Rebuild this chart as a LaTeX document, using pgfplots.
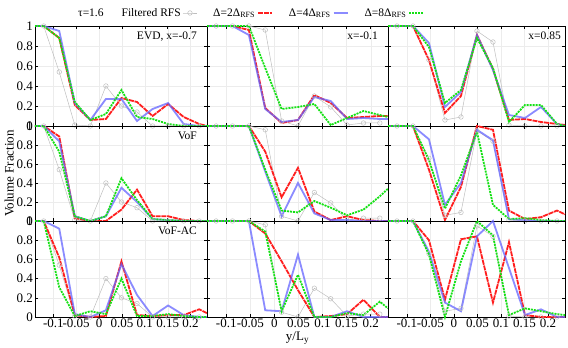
\documentclass[border=0pt]{standalone}
\usepackage{fontspec}
\setmainfont{Liberation Serif}
\usepackage{pgfplots}
\usepackage{pgfplotstable}
\pgfplotsset{compat=1.18}
\definecolor{rfsgray}{RGB}{190,190,190}
\definecolor{dred}{RGB}{255,30,30}
\definecolor{dblue}{RGB}{100,100,255}
\definecolor{dgreen}{RGB}{20,225,20}
\newcommand{\fs}{\fontsize{11.5}{13}\selectfont}
\newcommand{\ft}{\fontsize{13}{14}\selectfont}

% columns: y/Ly, filtered RFS, Delta=2,4,8 Delta_RFS (first/last row = frame edges)
\pgfplotstableread{
x rfs d2 d4 d8
-0.140 nan 1 1 1
-0.121 1 1 1 1
-0.087 0.54 0.88 0.95 0.88
-0.053 0.01 0.21 0.23 0.24
-0.019 0 0.06 0.06 0.06
0.015 0.40 0.07 0.27 0.12
0.049 0.20 0.28 0.27 0.36
0.083 0.14 0.24 0.05 0.09
0.117 0 0.10 0.17 0.07
0.151 0 0.22 0.23 0.02
0.185 0 0.09 0.02 0
0.219 0 0.02 0 0
0.236 nan 0 0 0
}\pA
\pgfplotstableread{
x rfs d2 d4 d8
-0.140 nan 1 1 1
-0.121 1 1 1 1
-0.087 1 1 1 1
-0.053 1 0.96 0.91 1
-0.019 0.96 0.18 0.17 0.58
0.015 0.05 0.03 0.04 0.17
0.049 0 0.06 0.06 0.19
0.083 0.30 0.31 0.29 0.22
0.117 0.19 0.23 0.25 0.01
0.151 0.01 0.08 0.07 0.08
0.185 0.03 0.09 0.08 0.15
0.219 0.03 0.10 0.07 0.11
0.236 nan 0.10 0.07 0.09
}\pB
\pgfplotstableread{
x rfs d2 d4 d8
-0.140 nan 1 1 1
-0.121 1 1 1 1
-0.087 1 1 1 1
-0.053 0.66 0.66 0.83 0.79
-0.019 0.06 0.13 0.19 0.23
0.015 0.09 0.30 0.34 0.36
0.049 0.95 0.91 0.91 0.88
0.083 0.84 0.57 0.56 0.58
0.117 0.01 0.06 0.11 0.04
0.151 0 0.07 0.08 0.21
0.185 0 0.04 0.19 0.21
0.219 0 0.02 0.02 0.02
0.236 nan 0.01 0 0
}\pC
\pgfplotstableread{
x rfs d2 d4 d8
-0.140 nan 1 1 1
-0.121 1 1 1 1
-0.087 0.54 0.89 0.84 0.73
-0.053 0.01 0.03 0.05 0.05
-0.019 0 0 0 0
0.015 0.40 0 0.05 0.05
0.049 0.20 0.12 0.35 0.45
0.083 0.14 0.33 0.20 0.22
0.117 0 0.05 0.02 0.02
0.151 0 0.05 0.01 0.01
0.185 0 0.01 0 0
0.219 0 0 0 0
0.236 nan 0 0 0
}\pD
\pgfplotstableread{
x rfs d2 d4 d8
-0.140 nan 1 1 1
-0.121 1 1 1 1
-0.087 1 1 1 1
-0.053 1 1 1 1
-0.019 0.96 0.73 0.52 0.54
0.015 0.05 0.25 0.05 0.11
0.049 0 0.56 0.40 0.09
0.083 0.30 0.10 0.08 0.21
0.117 0.19 0.01 0.01 0.14
0.151 0.01 0.05 0.01 0.06
0.185 0.03 0.01 0 0.12
0.219 0.03 0 0 0.26
0.236 nan 0 0 0.34
}\pE
\pgfplotstableread{
x rfs d2 d4 d8
-0.140 nan 1 1 1
-0.121 1 1 1 1
-0.087 1 1 1 1
-0.053 0.66 0.54 0.86 0.64
-0.019 0.06 0.01 0.17 0.13
0.015 0.09 0.36 0.40 0.48
0.049 0.95 1.0 0.96 0.94
0.083 0.84 0.96 0.85 0.17
0.117 0.01 0.11 0.02 0.02
0.151 0 0.02 0.01 0.03
0.185 0 0.04 0 0.01
0.219 0 0.11 0 0
0.236 nan 0.07 0 0
}\pF
\pgfplotstableread{
x rfs d2 d4 d8
-0.140 nan 1 1 1
-0.121 1 1 1 1
-0.087 0.54 0.62 0.92 0.31
-0.053 0.01 0.02 0.03 0.01
-0.019 0 0 0 0.06
0.015 0.40 0.01 0.07 0.03
0.049 0.20 0.58 0.55 0.40
0.083 0.14 0.02 0.23 0.01
0.117 0 0.01 0.01 0.01
0.151 0 0.02 0.12 0.03
0.185 0 0.02 0.02 0.01
0.219 0 0.08 0 0
0.236 nan 0.04 0 0
}\pG
\pgfplotstableread{
x rfs d2 d4 d8
-0.140 nan 1 1 1
-0.121 1 1 1 1
-0.087 1 1 1 1
-0.053 1 1 1 1
-0.019 0.96 0.87 0.07 0.89
0.015 0.05 0.58 0.06 0.06
0.049 0 0.28 0.65 0.44
0.083 0.30 0 0 0
0.117 0.19 0.01 0 0
0.151 0.01 0.03 0.06 0.04
0.185 0.03 0.18 0 0.02
0.219 0.03 0 0 0.16
0.236 nan 0 0 0.09
}\pH
\pgfplotstableread{
x rfs d2 d4 d8
-0.140 nan 1 1 1
-0.121 1 1 1 1
-0.087 1 1 1 1
-0.053 0.66 0.80 0.68 0.65
-0.019 0.06 0.18 0.15 0
0.015 0.09 0.81 0.06 0.58
0.049 0.95 0.84 0.84 1.0
0.083 0.84 0.15 1.0 0.85
0.117 0.01 0.78 0.51 0.02
0.151 0 0.02 0.02 0.09
0.185 0 0 0.08 0.06
0.219 0 0 0 0.03
0.236 nan 0 0 0.02
}\pI

\pgfplotsset{
  rfs/.style={rfsgray, line width=0.5pt, mark=o, mark size=2.3pt, mark options={solid, line width=0.5pt}},
  d2/.style={dred, line width=1.8pt, dash pattern=on 5pt off 0.8pt},
  d4/.style={dblue, line width=1.8pt, opacity=0.75},
  d8/.style={dgreen, line width=1.8pt, dash pattern=on 2pt off 1pt},
  vf/.style={
    scale only axis, anchor=south west, clip=false,
    xmin=-0.14, xmax=0.236, ymin=0, ymax=1,
    xtick={-0.1,-0.05,0,0.05,0.1,0.15,0.2},
    ytick={0,0.2,0.4,0.6,0.8,1},
    xticklabels={}, yticklabels={},
    tick align=inside, major tick length=3pt,
    tick style={black, line width=0.5pt},
    axis line style={black, line width=0.5pt},
    grid=major, major grid style={gray!15, line width=0.3pt},
    tick label style={font=\ft},
    xticklabel style={inner sep=2pt},
    yticklabel style={inner sep=2pt},
    label style={font=\ft},
  },
  ylab/.style={yticklabels={0,0.2,0.4,0.6,0.8,1}},
  xlab/.style={xticklabels={-0.1,-0.05,0,0.05,0.1,0.15,0.2}},
}
\newcommand{\panel}[1]{%
  \addplot[rfs] table[y=rfs]{#1};
  \addplot[d2] table[y=d2]{#1};
  \addplot[d4] table[y=d4]{#1};
  \addplot[d8] table[y=d8]{#1};
}
\newcommand{\tag}[2][-10pt]{\node[anchor=north east, inner sep=0pt, font=\fs, xshift=#1, yshift=-6pt] at (rel axis cs:1,1) {#2};}

\begin{document}
\begin{tikzpicture}
% row 1
\begin{axis}[vf, ylab, at={(35pt,222pt)}, width=172pt, height=100pt,
  legend columns=5, legend plot pos=right,
  legend style={draw=none, fill=none, font=\fs, inner sep=0pt,
    at={(axis description cs:0.238,1.13)}, anchor=west,
    /tikz/every even column/.append style={column sep=14pt}},
  legend image code/.code={\draw[mark repeat=2,mark phase=2,#1] plot coordinates {(0pt,0pt) (7pt,0pt) (14pt,0pt)};}]
\addlegendimage{empty legend}\addlegendentry{τ=1.6}
\addplot[rfs] table[y=rfs]{\pA}; \addlegendentry{Filtered RFS}
\addplot[d2] table[y=d2]{\pA}; \addlegendentry{Δ=2Δ\textsubscript{RFS}}
\addplot[d4] table[y=d4]{\pA}; \addlegendentry{Δ=4Δ\textsubscript{RFS}}
\addplot[d8] table[y=d8]{\pA}; \addlegendentry{Δ=8Δ\textsubscript{RFS}}
\tag{EVD, x=-0.7}
\end{axis}
\begin{axis}[vf, at={(207pt,222pt)}, width=181pt, height=100pt]
\panel{\pB}
\tag{x=-0.1}
\end{axis}
\begin{axis}[vf, at={(388pt,222pt)}, width=177pt, height=100pt]
\panel{\pC}
\tag[-4pt]{x=0.85}
\end{axis}
% row 2
\begin{axis}[vf, ylab, at={(35pt,127pt)}, width=172pt, height=95pt,
  ylabel={Volume Fraction}, ylabel style={at={(axis description cs:-0.15,0.5)}, anchor=center}]
\panel{\pD}
\tag{VoF}
\end{axis}
\begin{axis}[vf, at={(207pt,127pt)}, width=181pt, height=95pt]
\panel{\pE}
\end{axis}
\begin{axis}[vf, at={(388pt,127pt)}, width=177pt, height=95pt]
\panel{\pF}
\end{axis}
% row 3
\begin{axis}[vf, ylab, xlab, at={(35pt,31pt)}, width=172pt, height=96pt]
\panel{\pG}
\tag{VoF-AC}
\end{axis}
\begin{axis}[vf, xlab, at={(207pt,31pt)}, width=181pt, height=96pt,
  xlabel={y/L\textsubscript{y}}, xlabel style={at={(axis description cs:0.5,-0.22)}, anchor=center}]
\panel{\pH}
\end{axis}
\begin{axis}[vf, xlab, at={(388pt,31pt)}, width=177pt, height=96pt]
\panel{\pI}
\end{axis}
\pgfresetboundingbox
\path[use as bounding box] (0,0) rectangle (568pt,348pt);
\end{tikzpicture}
\end{document}
